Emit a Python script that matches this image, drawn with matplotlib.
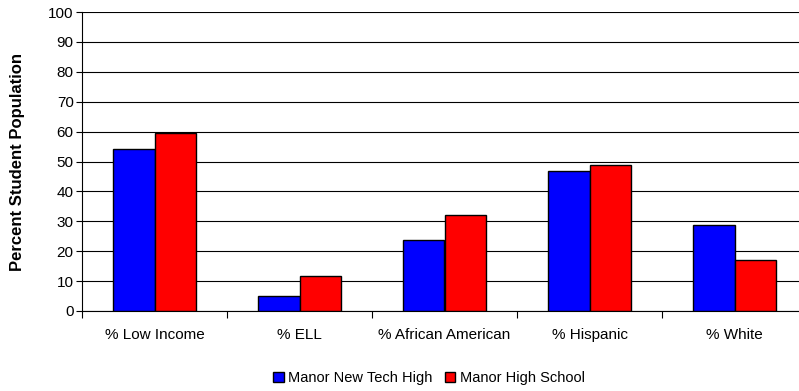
import numpy as np
import matplotlib
matplotlib.use("Agg")
import matplotlib.pyplot as plt

plt.rcParams['font.family'] = ['Liberation Sans', 'DejaVu Sans']

# data
categories = ['% Low Income', '% ELL', '% African American', '% Hispanic', '% White']
new_tech = [54.3, 5.0, 23.7, 46.7, 28.9]
manor_high = [59.6, 11.6, 32.0, 48.9, 17.0]
series_names = ['Manor New Tech High', 'Manor High School']

fig = plt.figure(figsize=(7.99, 3.91), dpi=100)
# axes runs a bit past the right edge, as in the original
ax = fig.add_axes([82/799, 1 - 311/391, (807 - 82)/799, (311 - 12)/391])

x = np.arange(len(categories))
w = 0.285
ax.bar(x - w/2, new_tech, w, color='#0000ff', edgecolor='black', linewidth=1, label=series_names[0], zorder=3)
ax.bar(x + w/2, manor_high, w, color='#ff0000', edgecolor='black', linewidth=1, label=series_names[1], zorder=3)

ax.set_xlim(-0.5, len(categories) - 0.5)
ax.set_ylim(0, 100)
ax.set_yticks(np.arange(0, 101, 10))
ax.yaxis.grid(True, color='black', linewidth=0.8, zorder=0)
ax.tick_params(axis='y', labelsize=11, length=4, width=0.8, pad=2)

# category labels centred, tick marks at boundaries
ax.set_xticks(x)
ax.set_xticklabels(categories, fontsize=11)
ax.tick_params(axis='x', which='major', length=0, pad=12)
ax.set_xticks(np.arange(-0.5, len(categories) + 0.5, 1), minor=True)
ax.tick_params(axis='x', which='minor', length=5, width=0.8)

for s in ['top', 'right']:
    ax.spines[s].set_visible(False)

ax.set_ylabel('Percent Student Population', fontsize=12, fontweight='bold')
ax.yaxis.set_label_coords(-57/725, 0.5)

fig.legend(loc='center', bbox_to_anchor=(429/799, 1 - 378/391), ncol=2, frameon=False,
           fontsize=10.5, handlelength=0.75, handleheight=0.75, handletextpad=0.3, columnspacing=0.8)

fig.savefig('out.png', dpi=100)
